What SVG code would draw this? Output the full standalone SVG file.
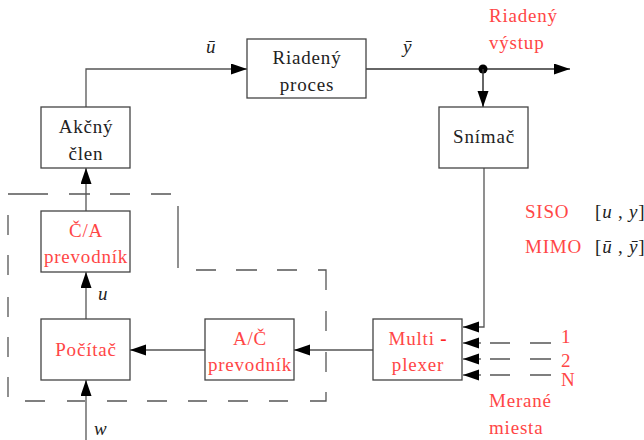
<svg xmlns="http://www.w3.org/2000/svg" width="644" height="440" viewBox="0 0 644 440">
<style>
.box{fill:#fff;stroke:#444;stroke-width:1.3}
.ln{fill:none;stroke:#555;stroke-width:1.3}
.dk{fill:none;stroke:#333;stroke-width:1.5}
.ds{fill:none;stroke:#555;stroke-width:1.3}
.t{font-family:"Liberation Serif",serif;font-size:19px;letter-spacing:0.8px;fill:#222}
.c{text-anchor:middle}
.r{fill:#ff4646}
.m{font-style:italic}
</style>
<defs>
<marker id="arr" markerUnits="userSpaceOnUse" markerWidth="17" markerHeight="12" refX="16" refY="5.5" orient="auto">
<path d="M0,0 L16,5.5 L0,11 z" fill="#000"/>
</marker>
</defs>
<rect width="644" height="440" fill="#fff"/>

<g id="boundary">
<path class="ds" d="M8,194H48M69,194H90M110,194H130M151,194H171M178,206V268M196,270H216M236,270H257M277,270H297M318,270H326V290M326,311V331M326,352V372M326,392V401H310M288,401H269M248,401H228M207,401H188M167,401H147M127,401H107M85,401H67M45,401H25M8,397V377M8,357V337M8,317V297M8,275V255M8,235V215"/>
</g>

<g id="connectors">
<path class="ln" d="M86,107V69H247" marker-end="url(#arr)"/>
<path class="dk" d="M366,69H570" marker-end="url(#arr)"/>
<circle cx="483" cy="69" r="4.5" fill="#000"/>
<path class="dk" d="M483,69V107" marker-end="url(#arr)"/>
<path class="ln" d="M484,168V327H463" marker-end="url(#arr)"/>
<path class="ln" d="M481,343H463" marker-end="url(#arr)"/>
<path class="ln" d="M481,359H463" marker-end="url(#arr)"/>
<path class="ln" d="M481,375H463" marker-end="url(#arr)"/>
<path class="ds" d="M490,343H510M530,343H551M490,359H510M530,359H551M490,375H510M530,375H551"/>
<path class="ln" d="M373,350H294" marker-end="url(#arr)"/>
<path class="ln" d="M205,350H130" marker-end="url(#arr)"/>
<path class="ln" d="M86,319V272" marker-end="url(#arr)"/>
<path class="ln" d="M86,211V168" marker-end="url(#arr)"/>
<path class="ln" d="M86,440V380" marker-end="url(#arr)"/>
</g>

<g id="riadeny-proces">
<rect class="box" x="247" y="39" width="119" height="59"/>
<text class="t c" x="307" y="64">Riadený</text>
<text class="t c" x="307" y="91">proces</text>
</g>

<g id="akcny-clen">
<rect class="box" x="41" y="107" width="89" height="61"/>
<text class="t c" x="86" y="133">Akčný</text>
<text class="t c" x="86" y="160">člen</text>
</g>

<g id="snimac">
<rect class="box" x="439" y="107" width="89" height="61"/>
<text class="t c" x="484" y="143">Snímač</text>
</g>

<g id="ca-prevodnik">
<rect class="box" x="41" y="211" width="89" height="61"/>
<text class="t c r" x="86" y="237">Č/A</text>
<text class="t c r" x="86" y="263">prevodník</text>
</g>

<g id="pocitac">
<rect class="box" x="41" y="319" width="89" height="61"/>
<text class="t c r" x="86" y="356">Počítač</text>
</g>

<g id="ac-prevodnik">
<rect class="box" x="205" y="319" width="89" height="61"/>
<text class="t c r" x="250" y="345">A/Č</text>
<text class="t c r" x="250" y="371">prevodník</text>
</g>

<g id="multiplexer">
<rect class="box" x="373" y="319" width="89" height="61"/>
<text class="t c r" x="418" y="345">Multi <tspan font-weight="bold" fill="#f22">-</tspan></text>
<text class="t c r" x="418" y="371">plexer</text>
</g>

<g id="labels">
<text class="t m" x="206" y="53">ū</text>
<text class="t m" x="403" y="53">ȳ</text>
<text class="t m" x="98" y="300">u</text>
<text class="t m" x="94" y="435">w</text>
<text class="t r" x="489" y="22">Riadený</text>
<text class="t r" x="489" y="49">výstup</text>
<text class="t r" x="525" y="218">SISO</text>
<text class="t r" x="525" y="253">MIMO</text>
<text class="t" x="595" y="218" letter-spacing="0">[<tspan class="m">u</tspan> , <tspan class="m">y</tspan>]</text>
<text class="t" x="595" y="253" letter-spacing="0">[<tspan class="m">ū</tspan> , <tspan class="m">ȳ</tspan>]</text>
<text class="t r" x="561" y="343">1</text>
<text class="t r" x="561" y="367">2</text>
<text class="t r" x="561" y="386">N</text>
<text class="t r" x="489" y="407">Merané</text>
<text class="t r" x="489" y="434">miesta</text>
</g>
</svg>
